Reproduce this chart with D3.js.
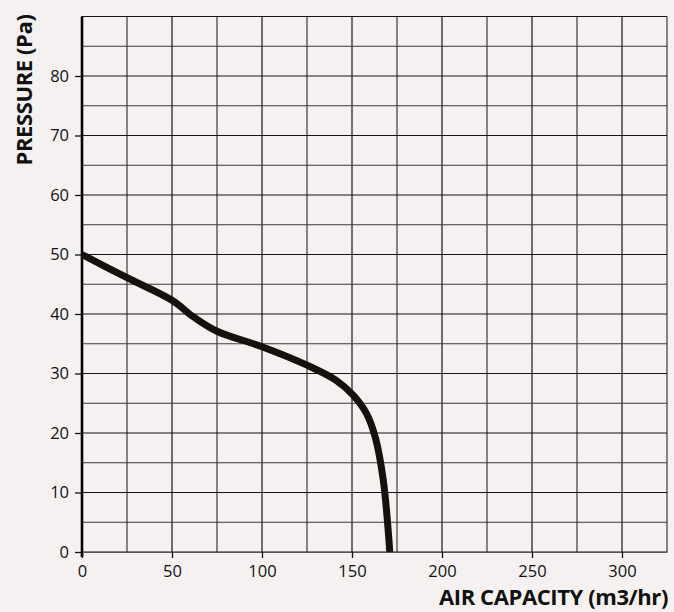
<!DOCTYPE html>
<html>
<head>
<meta charset="utf-8">
<script src="https://cdn.jsdelivr.net/npm/d3@7"></script>
<style>
  html, body { margin: 0; padding: 0; background: #f4f1f0; }
  svg { display: block; }
  text { font-family: "Open Sans", "Lato", sans-serif; fill: #111; }
</style>
</head>
<body>
<svg id="chart" width="674" height="612"></svg>
<script>
// fan curve
const airCapacity = [0, 25, 50, 62, 75, 100, 125, 141, 150.5, 158, 163, 167.4, 171]
const pressure    = [50, 46.1, 42.3, 39.5, 37.1, 34.5, 31.4, 28.9, 26.4, 23.3, 19.2, 12, 0]

const xTicks = [0, 50, 100, 150, 200, 250, 300]
const yTicks = [0, 10, 20, 30, 40, 50, 60, 70, 80]
const xGrid = d3.range(0, 326, 25)
const yGrid = d3.range(0, 91, 5)

const svg = d3.select('#chart')
const gLeft = 82, gRight = 667, gTop = 16.5, gBottom = 552

const x = d3.scaleLinear().domain([0, 325]).range([gLeft, gRight])
const y = d3.scaleLinear().domain([0, 90]).range([gBottom, gTop])

// grid
let grid = svg.append('g')
grid.selectAll('line.v').data(xGrid).join('line')
  .attr('x1', d => x(d)).attr('x2', d => x(d))
  .attr('y1', gTop).attr('y2', gBottom)
  .attr('stroke', d => d % 50 === 0 ? '#151515' : '#3a3a3a')
  .attr('stroke-width', 1.2)
grid.selectAll('line.h').data(yGrid).join('line')
  .attr('x1', gLeft).attr('x2', gRight)
  .attr('y1', d => y(d)).attr('y2', d => y(d))
  .attr('stroke', d => d % 10 === 0 ? '#151515' : '#3a3a3a')
  .attr('stroke-width', 1.2)

// axes
let yAxis = svg.append('g')
  .attr('transform', `translate(${gLeft},0)`)
  .call(d3.axisLeft(y).tickValues(yTicks).tickSize(7).tickPadding(6).tickSizeOuter(0))
yAxis.select('.domain').attr('stroke', '#000').attr('stroke-width', 2.6)
  .attr('d', `M0,${gBottom + 5}V${gTop}`)
yAxis.selectAll('.tick line').attr('stroke', '#111').attr('stroke-width', 1.3)
yAxis.selectAll('.tick text').style('font-size', '16.5px').attr('fill', '#111')
  .style('font-family', '"Open Sans", sans-serif')

let xAxis = svg.append('g')
  .attr('transform', `translate(0,${gBottom})`)
  .call(d3.axisBottom(x).tickValues(xTicks).tickSize(6).tickPadding(7).tickSizeOuter(0))
xAxis.select('.domain').attr('stroke', '#555').attr('stroke-width', 1.2)
xAxis.selectAll('.tick line').attr('stroke', '#111').attr('stroke-width', 1.3)
xAxis.selectAll('.tick text').style('font-size', '16.5px').attr('fill', '#111')
  .style('font-family', '"Open Sans", sans-serif')

// titles
svg.append('text')
  .attr('x', gRight + 1).attr('y', 605)
  .attr('text-anchor', 'end')
  .style('font-size', '22px').style('font-weight', 700)
  .style('letter-spacing', '-0.4px')
  .text('AIR CAPACITY (m3/hr)')

svg.append('text')
  .attr('transform', `translate(32,90) rotate(-90)`)
  .attr('text-anchor', 'middle')
  .style('font-size', '22px').style('font-weight', 700)
  .style('letter-spacing', '-0.4px')
  .text('PRESSURE (Pa)')

// curve
let line = d3.line()
  .x((d, i) => x(airCapacity[i]))
  .y(d => y(d))
  .curve(d3.curveCatmullRom.alpha(0.5))

svg.append('path')
  .datum(pressure)
  .attr('d', line)
  .attr('fill', 'none')
  .attr('stroke', '#14110f')
  .attr('stroke-width', 7)
  .attr('stroke-linecap', 'butt')
</script>
</body>
</html>
